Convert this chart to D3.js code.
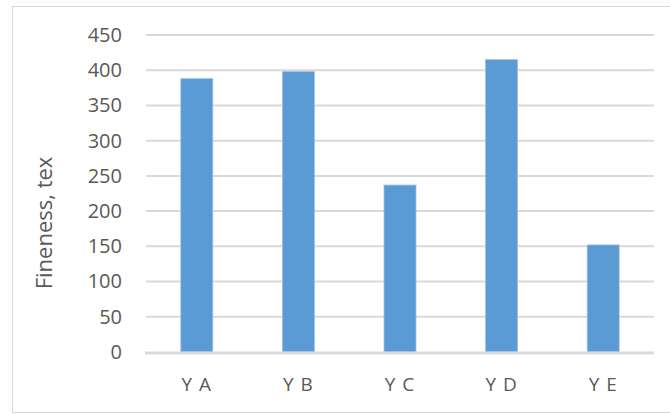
<!DOCTYPE html>
<html><head><meta charset="utf-8">
<script src="https://cdn.jsdelivr.net/npm/d3@7"></script>
<style>html,body{margin:0;padding:0;background:#fff;}svg{display:block;}</style>
</head><body><svg id="c" width="670" height="414"></svg>
<script>
const categories = ["Y A", "Y B", "Y C", "Y D", "Y E"];
const values = [388, 398, 237, 415, 152];
const yTicks = [0, 50, 100, 150, 200, 250, 300, 350, 400, 450];
const yTitle = "Fineness, tex";

const svg = d3.select("#c");
const W = 670, H = 414;
const m = {left: 146, right: 16, top: 35, bottom: 62};
const font = "'Open Sans', sans-serif";

svg.append("rect").attr("x", 12.5).attr("y", 6.5).attr("width", 670).attr("height", 406)
  .attr("fill", "#fff").attr("stroke", "#d9d9d9").attr("stroke-width", 1);

const x = d3.scaleBand().domain(categories).range([m.left, W - m.right])
  .paddingInner(0.685).paddingOuter(0.3425);
const y = d3.scaleLinear().domain([0, 450]).range([H - m.bottom, m.top]);

const grid = svg.append("g");
grid.selectAll("line").data(yTicks.filter(d => d > 0)).join("line")
  .attr("x1", m.left).attr("x2", W - m.right)
  .attr("y1", d => y(d)).attr("y2", d => y(d))
  .attr("stroke", "#d9d9d9").attr("stroke-width", 2);

svg.append("g").selectAll("rect").data(values).join("rect")
  .attr("x", (d, i) => x(categories[i]))
  .attr("width", x.bandwidth())
  .attr("y", d => y(d))
  .attr("height", d => y(0) - y(d))
  .attr("fill", "#5b9bd5")
  .attr("stroke", "#9dc3e6").attr("stroke-width", 0.8);

svg.append("line").attr("x1", m.left - 1).attr("x2", W - m.right)
  .attr("y1", y(0) + 1).attr("y2", y(0) + 1)
  .attr("stroke", "#d9d9d9").attr("stroke-width", 3);

const yAxis = d3.axisLeft(y).tickValues(yTicks).tickSize(0).tickPadding(0);
const ya = svg.append("g").attr("transform", `translate(${m.left - 24},0)`).call(yAxis);
ya.select(".domain").remove();
ya.selectAll("text").attr("font-family", font).attr("font-size", 20).attr("fill", "#595959");

const xAxis = d3.axisBottom(x).tickSize(0).tickPadding(0);
const xa = svg.append("g").attr("transform", `translate(0,${y(0) + 25})`).call(xAxis);
xa.select(".domain").remove();
xa.selectAll("text").attr("font-family", font).attr("font-size", 19).attr("fill", "#595959")
  .attr("letter-spacing", 1);

svg.append("text")
  .attr("transform", `translate(52,223) rotate(-90)`)
  .attr("text-anchor", "middle")
  .attr("font-family", font).attr("font-size", 22).attr("fill", "#595959")
  .text(yTitle);
</script></body></html>
